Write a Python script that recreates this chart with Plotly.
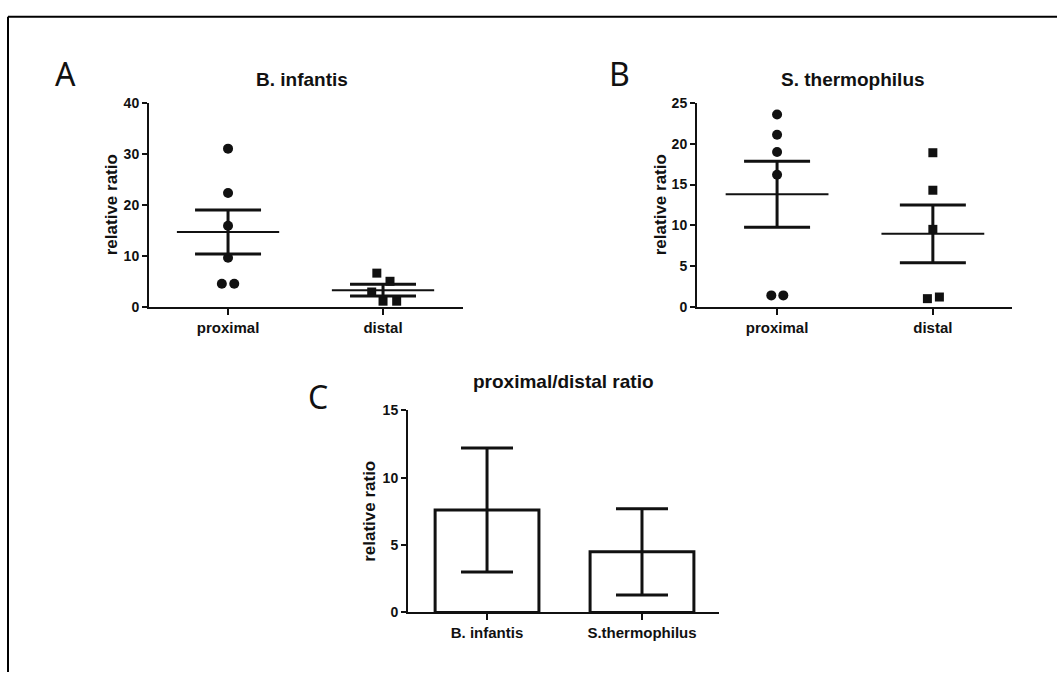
import plotly.graph_objects as go

# ---------------- data ----------------
groups = ["proximal", "distal"]

a_prox = [31.0, 22.3, 15.9, 9.6, 4.5, 4.5]
a_dist = [6.6, 5.0, 2.9, 1.1, 1.1]
a_mean = [14.65, 3.25]
a_sem = [4.3, 1.15]

b_prox = [23.6, 21.1, 19.0, 16.2, 1.4, 1.4]
b_dist = [18.9, 14.3, 9.5, 1.0, 1.2]
b_mean = [13.8, 8.95]
b_sem = [4.05, 3.55]

c_species = ["B. infantis", "S.thermophilus"]
c_mean = [7.6, 4.5]
c_err = [4.6, 3.2]

# horizontal jitter of the dots (style, not data)
a_prox_dx = [0, 0, 0, 0, -0.04, 0.04]
a_dist_dx = [-0.04, 0.045, -0.073, 0.0, 0.088]
b_prox_dx = [0, 0, 0, 0, -0.037, 0.04]
b_dist_dx = [0, 0, 0, -0.035, 0.042]

W, H = 1057, 680
FONT = "Liberation Sans, Arial, sans-serif"
INK = "#111111"


def px(x):
    return x / W


def py(y):
    return 1 - y / H


fig = go.Figure()


def dots(vals, dx, idx, symbol, size, xa, ya):
    fig.add_trace(go.Scatter(
        x=[idx + d for d in dx], y=vals, mode="markers",
        marker=dict(symbol=symbol, size=size, color=INK, line=dict(width=0)),
        xaxis=xa, yaxis=ya, cliponaxis=False, showlegend=False, hoverinfo="y"))


def mean_sem(means, sems, xa, ya):
    hx, hy = [], []
    for i, m in enumerate(means):
        hx += [i - 0.33, i + 0.33, None]
        hy += [m, m, None]
    fig.add_trace(go.Scatter(x=hx, y=hy, mode="lines",
                             line=dict(color=INK, width=2),
                             xaxis=xa, yaxis=ya, showlegend=False, hoverinfo="skip"))
    fig.add_trace(go.Scatter(
        x=list(range(len(means))), y=means, mode="markers",
        marker=dict(size=1, color=INK),
        error_y=dict(type="data", array=sems, visible=True, color=INK,
                     thickness=3, width=33),
        xaxis=xa, yaxis=ya, showlegend=False, hoverinfo="skip"))


# Panel A
dots(a_prox, a_prox_dx, 0, "circle", 10, "x", "y")
dots(a_dist, a_dist_dx, 1, "square", 9, "x", "y")
mean_sem(a_mean, a_sem, "x", "y")

# Panel B
dots(b_prox, b_prox_dx, 0, "circle", 10, "x2", "y2")
dots(b_dist, b_dist_dx, 1, "square", 9, "x2", "y2")
mean_sem(b_mean, b_sem, "x2", "y2")

# Panel C
fig.add_trace(go.Bar(
    x=list(range(len(c_species))), y=c_mean, width=0.67,
    marker=dict(color="white", line=dict(color=INK, width=3)),
    error_y=dict(type="data", array=c_err, visible=True, color=INK,
                 thickness=3, width=26),
    xaxis="x3", yaxis="y3", showlegend=False, hoverinfo="y"))

tickfont = dict(family=FONT, size=14, color=INK, weight="bold")
cattickfont = dict(family=FONT, size=15, color=INK, weight="bold")


def yax(domain, rng, dtick, anchor):
    return dict(domain=domain, range=rng, dtick=dtick, tick0=0, anchor=anchor,
                showline=True, linecolor=INK, linewidth=2, ticks="outside",
                ticklen=5, tickwidth=2, tickcolor=INK, showgrid=False,
                zeroline=False, tickfont=tickfont, fixedrange=True)


def xax(domain, rng, labels, anchor):
    return dict(domain=domain, range=rng, anchor=anchor,
                tickvals=list(range(len(labels))), ticktext=labels,
                showline=True, linecolor=INK, linewidth=2, ticks="outside",
                ticklen=6, tickwidth=2, tickcolor=INK, showgrid=False,
                zeroline=False, tickfont=cattickfont, fixedrange=True)


fig.update_layout(
    width=W, height=H,
    margin=dict(l=0, r=0, t=0, b=0),
    paper_bgcolor="white", plot_bgcolor="white",
    showlegend=False,
    xaxis=xax([px(149), px(463)], [-0.51, 1.516], groups, "y"),
    yaxis=yax([py(306), py(97)], [0, 40], 10, "x"),
    xaxis2=xax([px(697), px(1012)], [-0.514, 1.508], groups, "y2"),
    yaxis2=yax([py(306), py(97.3)], [0, 25], 5, "x2"),
    xaxis3=xax([px(408), px(719)], [-0.51, 1.497], c_species, "y3"),
    yaxis3=yax([py(619), py(412)], [0, 15], 5, "x3"),
)

title_font = dict(family=FONT, size=19, color=INK, weight="bold")
axis_title_font = dict(family=FONT, size=17, color=INK, weight="bold")
letter_font = dict(family="Noto Sans, Open Sans, sans-serif", size=32, color=INK)

annos = [
    dict(text="B. infantis", x=px(302), y=py(73), font=title_font),
    dict(text="S. thermophilus", x=px(853), y=py(73), font=title_font),
    dict(text="proximal/distal ratio", x=px(563), y=py(382), font=title_font),
    dict(text="relative ratio", x=px(111), y=py(202), font=axis_title_font, textangle=-90),
    dict(text="relative ratio", x=px(660), y=py(202), font=axis_title_font, textangle=-90),
    dict(text="relative ratio", x=px(370), y=py(516), font=axis_title_font, textangle=-90),
    dict(text="A", x=px(65), y=py(67), font=letter_font),
    dict(text="B", x=px(619), y=py(67), font=letter_font),
    dict(text="C", x=px(318), y=py(398), font=letter_font),
]
for a in annos:
    a.update(xref="paper", yref="paper", showarrow=False,
             xanchor="center", yanchor="middle")
    fig.add_annotation(**a)

# frame border (top and left edges)
fig.add_shape(type="line", xref="paper", yref="paper",
              x0=px(8), x1=1, y0=py(9), y1=py(9), line=dict(color="black", width=2))
fig.add_shape(type="line", xref="paper", yref="paper",
              x0=px(8), x1=px(8), y0=py(9), y1=0, line=dict(color="black", width=2))

fig.write_html("out.html", config={"displayModeBar": False},
               post_script="document.body.style.margin='0';document.body.style.overflow='hidden';")
